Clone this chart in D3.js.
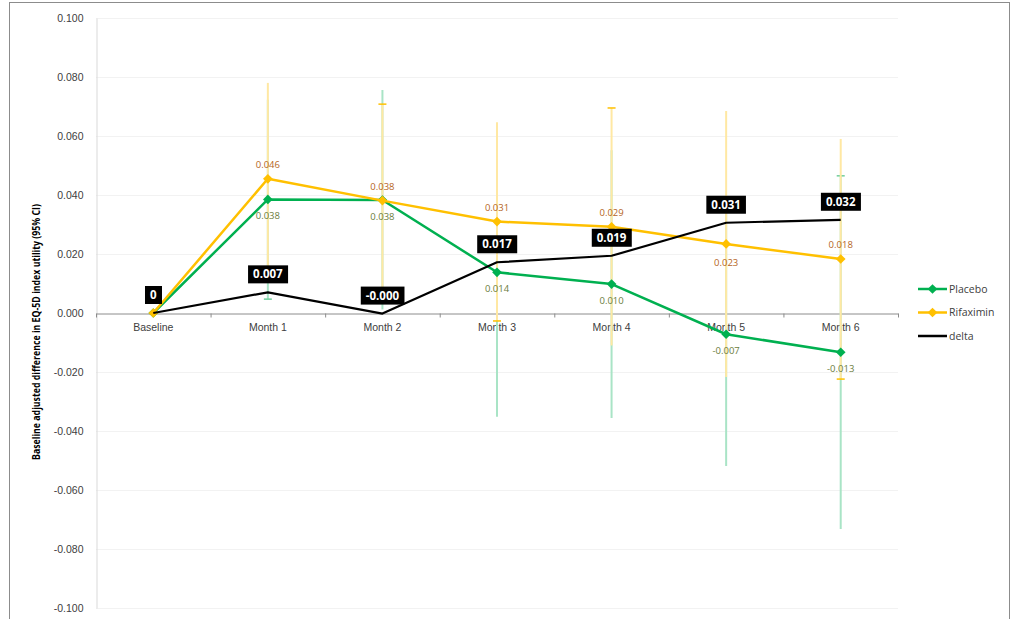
<!DOCTYPE html>
<html><head><meta charset="utf-8">
<script src="https://cdn.jsdelivr.net/npm/d3@7"></script>
<style>
html,body{margin:0;padding:0;background:#fff;}
svg{display:block;font-family:"Open Sans","Noto Sans",sans-serif;}
</style></head><body>
<svg id="c" width="1014" height="619"></svg>
<script>
const categories = ["Baseline","Month 1","Month 2","Month 3","Month 4","Month 5","Month 6"];
const placebo      = [0, 0.0385, 0.0383, 0.0138, 0.0098, -0.0072, -0.0133];
const placeboLow   = [0, 0.0047, 0.0012, -0.0352, -0.0356, -0.0519, -0.0732];
const placeboHigh  = [0, 0.0723, 0.0756, 0.0628, 0.0552, 0.0375, 0.0465];
const rifaximin    = [0, 0.0455, 0.0381, 0.0310, 0.0292, 0.0234, 0.0183];
const rifaximinLow = [0, 0.0130, 0.0054, -0.0027, -0.0110, -0.0217, -0.0224];
const rifaximinHigh= [0, 0.0780, 0.0708, 0.0647, 0.0695, 0.0685, 0.0590];
const delta        = [0, 0.0070, -0.0002, 0.0172, 0.0194, 0.0306, 0.0316];
const placeboLabels   = ["", "0.038", "0.038", "0.014", "0.010", "-0.007", "-0.013"];
const rifaximinLabels = ["", "0.046", "0.038", "0.031", "0.029", "0.023", "0.018"];
const deltaLabels     = ["0", "0.007", "-0.000", "0.017", "0.019", "0.031", "0.032"];
const tickValues = [0.1,0.08,0.06,0.04,0.02,0,-0.02,-0.04,-0.06,-0.08,-0.1];
const tickLabels = ["0.100","0.080","0.060","0.040","0.020","0.000","-0.020","-0.040","-0.060","-0.080","-0.100"];
const yTitle = "Baseline adjusted difference in EQ-5D index utility (95% CI)";
const seriesNames = ["Placebo","Rifaximin","delta"];
// label placement (style)
const rifLabelPos = ["", "above","above","above","above","below","above"];
const placeboCapLow  = [0,1,0,0,0,0,0], placeboCapHigh = [0,0,0,0,0,0,1];
const rifCapLow      = [0,0,0,1,0,0,1], rifCapHigh     = [0,0,1,0,1,0,0];

const GREEN="#00B050", GOLD="#FFC000";
const svg = d3.select("#c");

// frame
svg.append("rect").attr("x",9.5).attr("y",2.5).attr("width",1000).attr("height",640)
  .attr("fill","none").attr("stroke","#8c8c8c").attr("stroke-width",1);

const x = d3.scaleBand().domain(categories).range([96,898]);
const cx = c => x(c) + x.bandwidth()/2;
const y = d3.scaleLinear().domain([-0.1,0.1]).range([608,18]);

// gridlines
svg.append("g").selectAll("line").data(tickValues.filter(v=>v!==0)).join("line")
  .attr("x1",96).attr("x2",898).attr("y1",d=>y(d)+0.5).attr("y2",d=>y(d)+0.5)
  .attr("stroke","#f2f2f2").attr("stroke-width",1);

// y axis
const yAxis = d3.axisLeft(y).tickValues(tickValues).tickSize(0).tickPadding(13)
  .tickFormat((d,i)=>tickLabels[i]);
const gy = svg.append("g").attr("transform","translate(96.5,0)").call(yAxis);
gy.select(".domain").attr("stroke","#d9d9d9");
gy.selectAll("text").attr("font-size","10.5px").attr("fill","#404040");

// x axis
const xAxis = d3.axisBottom(x).tickSize(0).tickPadding(10);
const gx = svg.append("g").attr("transform",`translate(0,${y(0)+0.5})`).call(xAxis);
gx.select(".domain").attr("stroke","#8c8c8c");
gx.selectAll("text").attr("font-size","10.5px").attr("fill","#404040");
gx.append("g").selectAll("line").data(categories.concat(["_end"])).join("line")
  .attr("x1",(d,i)=> i<categories.length ? x(d)+0.5 : 898.5)
  .attr("x2",(d,i)=> i<categories.length ? x(d)+0.5 : 898.5)
  .attr("y1",0).attr("y2",4).attr("stroke","#8c8c8c");

// y title
svg.append("text").attr("transform","translate(40,332) rotate(-90)")
  .attr("text-anchor","middle").attr("font-size","10.5px").attr("font-weight","bold")
  .attr("textLength",256).attr("lengthAdjust","spacingAndGlyphs")
  .attr("fill","#000").text(yTitle);

// error bars
function errBars(low, high, capL, capH, col, capCol){
  const g = svg.append("g");
  categories.forEach((c,i)=>{
    if(i===0) return;
    g.append("line").attr("x1",cx(c)).attr("x2",cx(c)).attr("y1",y(low[i])).attr("y2",y(high[i]))
      .attr("stroke",col).attr("stroke-width",2);
    if(capL[i]) g.append("line").attr("x1",cx(c)-4).attr("x2",cx(c)+4).attr("y1",y(low[i])).attr("y2",y(low[i]))
      .attr("stroke",capCol).attr("stroke-width",1.5);
    if(capH[i]) g.append("line").attr("x1",cx(c)-4).attr("x2",cx(c)+4).attr("y1",y(high[i])).attr("y2",y(high[i]))
      .attr("stroke",capCol).attr("stroke-width",1.5);
  });
}
errBars(placeboLow, placeboHigh, placeboCapLow, placeboCapHigh, "#a9e4c6", "#6fcf9c");
errBars(rifaximinLow, rifaximinHigh, rifCapLow, rifCapHigh, "#ffe8a3", GOLD);

const line = d3.line().x((d,i)=>cx(categories[i])).y(d=>y(d));
const diamond = d3.symbol().type(d3.symbolDiamond2).size(60);

function series(vals, col, w, markers){
  svg.append("path").datum(vals).attr("d",line).attr("fill","none")
    .attr("stroke",col).attr("stroke-width",w).attr("stroke-linejoin","round");
  if(markers){
    svg.append("g").selectAll("path").data(vals).join("path")
      .attr("d",diamond).attr("transform",(d,i)=>`translate(${cx(categories[i])},${y(d)})`)
      .attr("fill",col);
  }
}
series(placebo, GREEN, 2.5, true);
series(rifaximin, GOLD, 2.5, true);
series(delta, "#000", 2.2, false);

// data labels
svg.append("g").selectAll("text").data(placebo).join("text")
  .attr("x",(d,i)=>cx(categories[i])).attr("y",d=>y(d)+20)
  .attr("text-anchor","middle").attr("font-size","9.5px").attr("fill","#6b7d3d")
  .text((d,i)=>placeboLabels[i]);
svg.append("g").selectAll("text").data(rifaximin).join("text")
  .attr("x",(d,i)=>cx(categories[i])).attr("y",(d,i)=> rifLabelPos[i]==="below" ? y(d)+22 : y(d)-11)
  .attr("text-anchor","middle").attr("font-size","9.5px").attr("fill","#b5651d")
  .text((d,i)=>rifaximinLabels[i]);

const dg = svg.append("g").selectAll("g").data(delta).join("g")
  .attr("transform",(d,i)=>`translate(${cx(categories[i])},${y(d)-18})`);
dg.append("text").attr("text-anchor","middle").attr("dy","0.36em")
  .attr("font-size","11.5px").attr("font-weight","bold").attr("fill","#fff")
  .text((d,i)=>deltaLabels[i]);
dg.each(function(){
  const g = d3.select(this), t = g.select("text"), bb = t.node().getBBox();
  g.insert("rect","text").attr("x",bb.x-5).attr("y",-9).attr("width",bb.width+10).attr("height",18).attr("fill","#000");
});

// legend
const leg = svg.append("g").attr("transform","translate(918,289)");
const legCols = [GREEN, GOLD, "#000"];
seriesNames.forEach((n,i)=>{
  const g = leg.append("g").attr("transform",`translate(0,${i*23.5})`);
  g.append("line").attr("x1",0).attr("x2",29).attr("stroke",legCols[i]).attr("stroke-width",2.5);
  if(i<2) g.append("path").attr("d",diamond).attr("transform","translate(14.5,0)").attr("fill",legCols[i]);
  g.append("text").attr("x",31).attr("dy","0.35em").attr("font-size","10.5px").attr("fill","#404040").text(n);
});
</script></body></html>
